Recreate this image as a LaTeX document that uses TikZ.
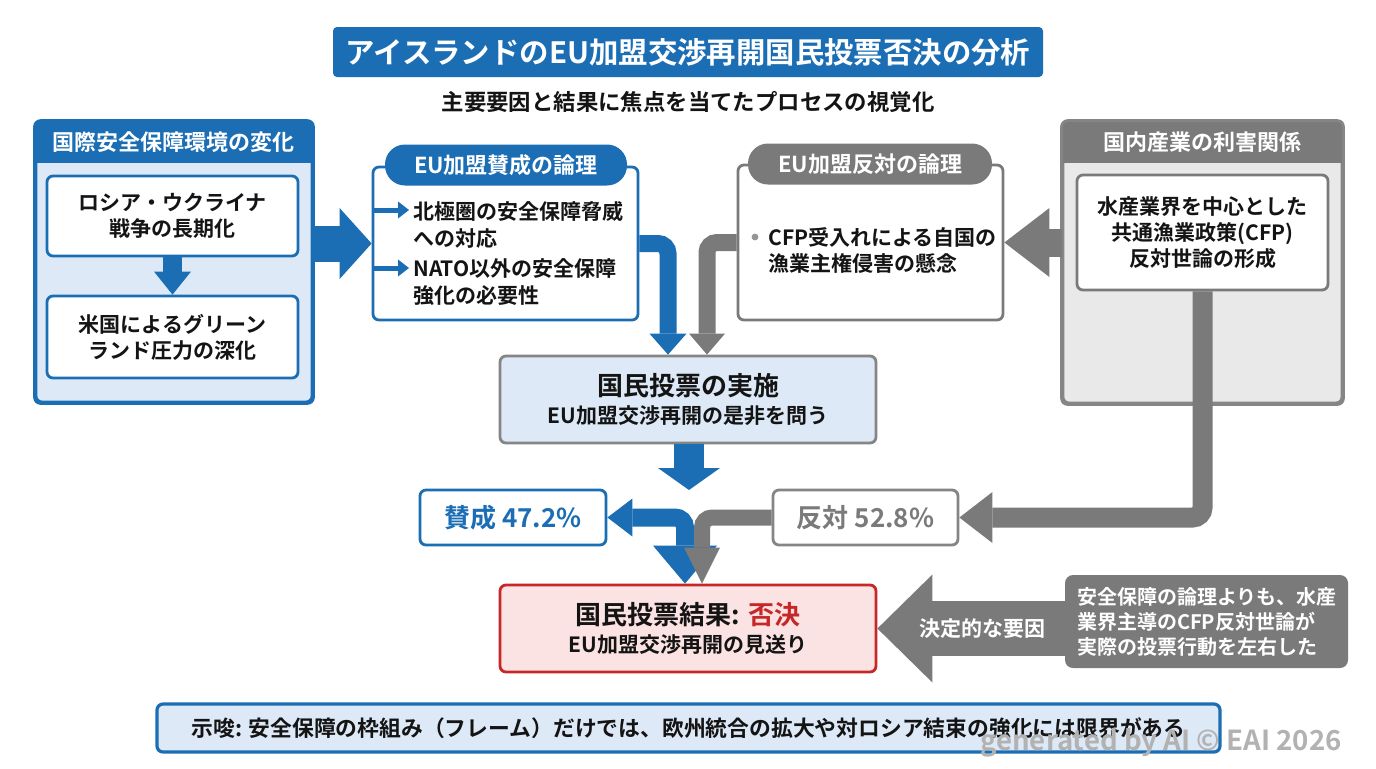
\documentclass[tikz,border=0pt]{standalone}
\usepackage{fontspec}
\setmainfont{Noto Sans CJK JP}[BoldFont={Noto Sans CJK JP Bold}]
\usepackage{tikz}
\usetikzlibrary{positioning,arrows.meta,calc}
\definecolor{cBlue}{HTML}{1B6DB4}
\definecolor{cBlueL}{HTML}{DDE9F6}
\definecolor{cGray}{HTML}{7A7A7A}
\definecolor{cGrayL}{HTML}{E9E9E9}
\definecolor{cFrame}{HTML}{858585}
\definecolor{cRed}{HTML}{C62828}
\definecolor{cRedL}{HTML}{FCE3E3}
\definecolor{cInk}{HTML}{141414}
\tikzset{
  blk/.style={rounded corners=3pt, draw, line width=1.4pt, align=center,
              inner sep=2pt, text=cInk, font=\fontsize{10.5}{13}\selectfont\bfseries},
  inb/.style={blk, draw=cBlue, fill=white, minimum width=125.5pt},
  ing/.style={blk, draw=cGray, fill=white},
  panb/.style={blk, draw=cBlue, fill=cBlueL, minimum width=138pt, minimum height=140pt},
  pang/.style={blk, draw=cFrame, fill=cGrayL, minimum width=139.5pt, minimum height=140.5pt},
  hdr/.style={inner sep=0pt, minimum height=20.5pt, text=white,
              font=\fontsize{11}{13}\selectfont\bfseries},
  pill/.style={rounded corners=10pt, inner sep=0pt, minimum height=20.5pt, text=white,
               font=\fontsize{11}{13}\selectfont\bfseries},
  txt/.style={align=left, inner sep=0pt, text=cInk, font=\fontsize{10.5}{13.5}\selectfont\bfseries},
  fat/.style n args={3}{line width=#1, -{Triangle[width=#2, length=#3, line width=0pt]}},
  ar/.style={fat={2.5pt}{8.5pt}{5.5pt}, cBlue},
}
\newcommand{\nay}{\textcolor{cRed}{否決}}

\begin{document}
\begin{tikzpicture}[x=0.5pt, y=-0.5pt]
    \useasboundingbox[fill=white] (0,0) rectangle (1376,768);

    % title
    \node[rounded corners=2pt, fill=cBlue, text=white, minimum width=355pt, minimum height=25pt,
          font=\fontsize{14.7}{17}\selectfont\bfseries] (title) at (688,52)
      {アイスランドのEU加盟交渉再開国民投票否決の分析};
    \node[txt, font=\fontsize{11.2}{13}\selectfont\bfseries] (sub) at (688,102)
      {主要要因と結果に焦点を当てたプロセスの視覚化};

    % left panel
    \node[panb] (lp) at (174,262) {};
    \node[hdr, fill=cBlue, minimum width=138pt] (lph) at (174,142.5) {国際安全保障環境の変化};
    \draw[cBlue, line width=1.4pt, rounded corners=3pt] (lp.north west) rectangle (lp.south east);
    \node[inb, minimum height=40pt] (war) at (172.5,216) {ロシア・ウクライナ\\戦争の長期化};
    \node[inb, minimum height=41pt] (us) at (172.5,337) {米国によるグリーン\\ランド圧力の深化};
    \draw[fat={9.5pt}{18.5pt}{11.5pt}, cBlue] (war.south) -- (us.north);

    % pro side
    \node[inb, minimum width=132.5pt, minimum height=76.5pt] (pro) at (505.5,243.5) {};
    \node[pill, fill=cBlue, minimum width=121pt] (proh) at (506,165) {EU加盟賛成の論理};
    \node[txt, anchor=west] (p1) at (413,224.5) {北極圏の安全保障脅威\\への対応};
    \node[txt, anchor=west] (p2) at (413,282) {NATO以外の安全保障\\強化の必要性};
    \coordinate (b1) at (409,210);
    \coordinate (b2) at (409,268);
    \draw[ar] (pro.west |- b1) -- (b1);
    \draw[ar] (pro.west |- b2) -- (b2);
    \draw[fat={18pt}{35.5pt}{16pt}, cBlue] (lp.east |- pro.west) -- (pro.west);

    % contra side
    \node[ing, minimum width=132.5pt, minimum height=77.5pt] (con) at (870.5,242.5) {};
    \node[pill, fill=cGray, minimum width=122pt] (conh) at (870,164) {EU加盟反対の論理};
    \fill[cGray!80] (755,237) circle (1.7pt);
    \node[txt, anchor=west, font=\fontsize{10.5}{13}\selectfont\bfseries] (c1) at (768,250)
      {CFP受入れによる自国の\\漁業主権侵害の懸念};

    % industry panel
    \node[pang] (rp) at (1202.5,262.5) {};
    \node[hdr, fill=cGray, minimum width=139.5pt] (rph) at (1202.5,142.5) {国内産業の利害関係};
    \draw[cFrame, line width=1.4pt, rounded corners=3pt] (rp.north west) rectangle (rp.south east);
    \node[ing, minimum width=125.5pt, minimum height=57.5pt] (ind) at (1202.5,232.5)
      {水産業界を中心とした\\共通漁業政策(CFP)\\反対世論の形成};
    \draw[fat={14pt}{34.5pt}{22.5pt}, cGray] (rp.west |- con.east) -- (con.east);

    % referendum
    \node[blk, draw=cFrame, fill=cBlueL, minimum width=188pt, minimum height=43.5pt] (vote) at (688,399.5)
      {{\fontsize{13}{16}\selectfont 国民投票の実施}\\[1pt]EU加盟交渉再開の是非を問う};
    \draw[fat={8.5pt}{18.5pt}{10.5pt}, cBlue, rounded corners=5pt]
      (pro.east) -| ($(vote.north)+(-20,0)$);
    \draw[fat={8.5pt}{18pt}{10.5pt}, cGray, rounded corners=5pt]
      (con.west) -| ($(vote.north)+(19,0)$);

    \coordinate (split) at (689,490);
    \draw[fat={15pt}{31pt}{11pt}, cBlue] (vote.south -| split) -- (split);

    \node[blk, draw=cBlue, fill=white, text=cBlue, minimum width=93pt, minimum height=27.5pt,
          font=\fontsize{13}{15}\selectfont\bfseries] (yes) at (513,517.5) {賛成 47.2\%};
    \node[blk, draw=cFrame, fill=white, text=cGray, minimum width=92.5pt, minimum height=27.5pt,
          font=\fontsize{13}{15}\selectfont\bfseries] (no) at (865.5,517.5) {反対 52.8\%};
    \draw[fat={10pt}{25.5pt}{16.5pt}, cGray, rounded corners=5pt] (ind.south) |- (no.east);

    % result
    \node[blk, draw=cRed, fill=cRedL, minimum width=188pt, minimum height=43.5pt] (res) at (688,628.5)
      {{\fontsize{13}{16}\selectfont 国民投票結果: \nay}\\[1pt]EU加盟交渉再開の見送り};
    \draw[cBlue, line width=9pt, rounded corners=5pt,
          {Triangle[width=19pt, length=12.5pt, line width=0pt]}-{Triangle[width=32pt, length=19pt, line width=0pt]}]
      (yes.east) -| ($(res.north)+(-3,0)$);
    \draw[fat={8pt}{18pt}{18pt}, cGray, rounded corners=5pt] (no.west) -| ($(res.north)+(14,0)$);

    % decisive factor
    \node[rounded corners=4pt, fill=cGray, text=white, align=left, inner sep=0pt,
          minimum width=141.5pt, minimum height=46.5pt, font=\fontsize{10}{12.5}\selectfont\bfseries] (why) at (1206.5,621.5)
      {安全保障の論理よりも、水産\\業界主導のCFP反対世論が\\実際の投票行動を左右した};
    \draw[fat={27.5pt}{54pt}{27.5pt}, cGray] (why.west |- res.east) --
      node[pos=0.44, text=white, font=\fontsize{10.5}{12}\selectfont\bfseries] (lab) {決定的な要因} (res.east);

    % implication
    \node[rounded corners=3pt, draw=cBlue, line width=1.6pt, fill=cBlueL, text=cInk,
          minimum width=531.5pt, minimum height=24pt, font=\fontsize{10.9}{13}\selectfont\bfseries] (imp) at (688.5,728)
      {示唆: 安全保障の枠組み（フレーム）だけでは、欧州統合の拡大や対ロシア結束の強化には限界がある};

    \node[text=gray!60, inner sep=0pt, font=\fontsize{13.8}{15}\selectfont\bfseries] (wm) at (1161,743)
      {generated by AI © EAI 2026};
  \end{tikzpicture}
\end{document}
